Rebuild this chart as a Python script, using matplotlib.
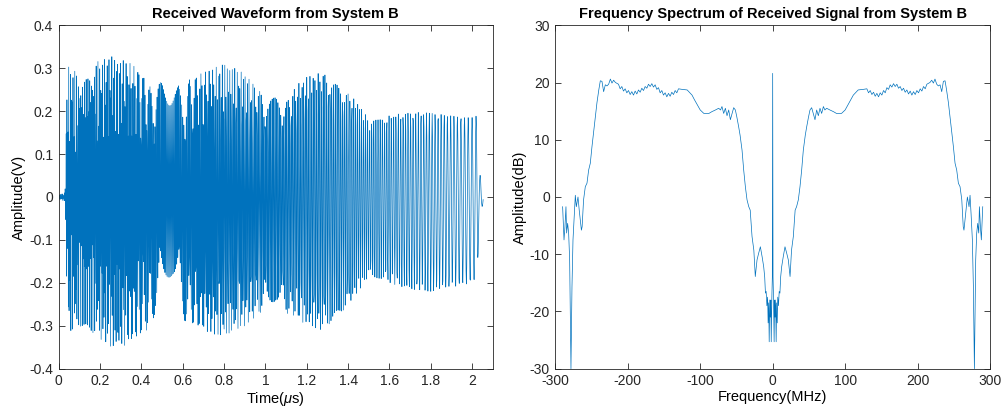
import numpy as np
import matplotlib.pyplot as plt

plt.rcParams['font.family'] = ['Liberation Sans', 'DejaVu Sans']
plt.rcParams['axes.unicode_minus'] = False
plt.rcParams['mathtext.fontset'] = 'custom'
plt.rcParams['mathtext.it'] = 'Liberation Sans:italic'

LINE = '#0072BD'
AXC = '#262626'

# ---- received waveform ----
fs_mhz = 580.0            # sample rate, from the +-290 MHz spectrum span
chirp_t = [0.04, 2.03]    # us, start / end of the down chirp
chirp_f = [241.0, 50.0]   # MHz at start / end
t_stop = 2.055

env_t = [0.0, 0.03, 0.04, 0.05, 0.10, 0.15, 0.20, 0.27, 0.35, 0.40, 0.45, 0.50,
         0.55, 0.58, 0.60, 0.62, 0.70, 0.80, 0.90, 0.95, 1.00, 1.05, 1.10, 1.15,
         1.20, 1.27, 1.35, 1.40, 1.45, 1.50, 1.55, 1.60, 1.70, 1.80, 1.90, 2.00,
         2.025, 2.035, 2.055]
env_hi = [0.005, 0.01, 0.27, 0.31, 0.28, 0.30, 0.32, 0.33, 0.31, 0.29, 0.25, 0.27,
          0.265, 0.26, 0.22, 0.27, 0.29, 0.31, 0.29, 0.26, 0.23, 0.24, 0.22, 0.26,
          0.28, 0.29, 0.27, 0.24, 0.22, 0.18, 0.18, 0.19, 0.20, 0.195, 0.19, 0.185,
          0.19, 0.06, 0.02]
env_lo = [0.005, 0.01, 0.23, 0.32, 0.30, 0.31, 0.33, 0.355, 0.34, 0.32, 0.30, 0.21,
          0.20, 0.22, 0.29, 0.29, 0.31, 0.33, 0.30, 0.28, 0.26, 0.25, 0.27, 0.28,
          0.30, 0.31, 0.28, 0.25, 0.22, 0.185, 0.19, 0.20, 0.215, 0.22, 0.21, 0.20,
          0.20, 0.04, 0.015]

# ---- spectrum, positive half (MHz, dB), mirrored for the negative half ----
spec_f = [0.0, 0.5, 1.2, 2.0, 2.6, 3.3, 4.0, 4.8, 5.5, 6.3, 7.0, 8.0, 9.0, 10.0,
          11.0, 12.4, 14.5, 17.0, 19.3, 21.6, 24.0, 26.0, 28.5, 31.0, 33.0, 35.4,
          37.7, 40.0, 42.3, 45.0, 47.0, 49.5, 51.5, 53.8, 56.0, 58.4, 60.7, 63.0,
          65.3, 67.6, 70.0, 72.0, 74.5, 79.0, 84.0, 88.0, 95.0, 100.0, 104.4,
          108.0, 111.3, 118.0, 125.0,
          130.0, 132.3, 134.6, 136.9, 139.2, 141.5, 143.8, 146.1, 148.4, 150.7,
          153.0, 155.3, 157.6, 159.9, 162.2, 164.5, 166.8, 169.1, 171.4, 173.7,
          176.0, 178.3, 180.6, 182.9, 185.2, 187.5, 189.8, 192.1, 194.4, 196.7,
          199.0, 201.3, 203.6, 205.9, 208.2, 210.5, 212.8,
          217.0, 219.5, 221.8,
          224.0, 226.4, 228.7, 231.0, 233.3, 235.6, 237.9, 240.0, 242.5, 244.8,
          247.0, 249.4, 251.7, 254.0, 256.3, 258.6, 261.0, 263.0, 264.0, 265.5,
          267.0, 268.7, 271.0, 272.4, 273.8, 275.6, 277.0, 278.4, 280.2, 281.6,
          283.0, 284.4, 285.3, 286.7, 288.0, 289.9]
spec_db = [21.6, -14.0, -18.0, -25.3, -18.0, -21.0, -18.0, -25.3, -18.5, -22.0,
           -17.5, -19.0, -16.5, -16.8, -14.0, -12.2, -10.5, -8.7, -9.8, -11.0,
           -13.9, -9.3, -6.9, -2.3, -1.7, -0.5, 1.8, 4.7, 8.2, 10.8, 12.3, 14.0,
           15.2, 15.6, 14.6, 13.5, 15.2, 14.2, 15.5, 14.6, 15.8, 15.2, 15.5, 15.2,
           14.9, 14.6, 14.6, 15.2, 16.2, 17.0, 17.8, 18.7, 18.8,
           18.9, 18.2, 18.6, 17.9, 18.3, 17.6, 18.1, 17.5, 18.2, 17.8,
           18.6, 18.2, 19.1, 18.8, 19.6, 19.2, 19.8, 19.3, 19.7, 19.0,
           19.3, 18.6, 19.0, 18.3, 18.7, 18.0, 18.5, 17.8, 18.4, 17.9,
           18.6, 18.2, 18.9, 18.5, 19.3, 18.9, 19.7,
           20.0, 20.4, 19.9,
           20.6, 19.7, 19.4, 19.6, 18.4, 20.2, 20.3, 18.7, 16.5, 14.0, 11.5,
           8.8, 5.9, 4.7, 2.4, 1.8, -0.5, -5.2, -5.8, -4.0, -2.3, 0.0, -1.7, 0.3,
           -2.9, -7.5, -15.7, -30.0, -11.0, -6.3, -4.6, -6.3, -1.7, -5.2, -7.5, -1.7]

left_xticks = [0, 0.2, 0.4, 0.6, 0.8, 1, 1.2, 1.4, 1.6, 1.8, 2]
left_yticks = [-0.4, -0.3, -0.2, -0.1, 0, 0.1, 0.2, 0.3, 0.4]
right_xticks = [-300, -200, -100, 0, 100, 200, 300]
right_yticks = [-30, -20, -10, 0, 10, 20, 30]

# waveform samples from the read envelope and chirp
t = np.arange(0, t_stop, 1.0 / fs_mhz)
k = (chirp_f[0] - chirp_f[1]) / (chirp_t[1] - chirp_t[0])
tau = t - chirp_t[0]
phase = 2 * np.pi * (chirp_f[0] * tau - 0.5 * k * tau ** 2)
c = np.cos(phase)
amp = np.where(c > 0, np.interp(t, env_t, env_hi), np.interp(t, env_t, env_lo))
wave = amp * c

f_full = np.concatenate([-np.array(spec_f[::-1]), np.array(spec_f[1:])])
db_full = np.concatenate([np.array(spec_db[::-1]), np.array(spec_db[1:])])

fig = plt.figure(figsize=(10.04, 4.15), dpi=100)
ax1 = fig.add_axes([0.0585, 0.1116, 0.4323, 0.8275])
ax2 = fig.add_axes([0.5531, 0.1116, 0.4330, 0.8275])

ax1.plot(t, wave, color=LINE, lw=0.5)
ax1.set_xlim(0, 2.1)
ax1.set_ylim(-0.4, 0.4)
ax1.set_xticks(left_xticks)
ax1.set_xticklabels([f'{v:g}' for v in left_xticks])
ax1.set_yticks(left_yticks)
ax1.set_yticklabels([f'{v:g}' for v in left_yticks])
ax1.set_title('Received Waveform from System B', fontsize=10.5, fontweight='bold', pad=5)
ax1.set_xlabel(r'Time($\mu$s)', fontsize=10.5, labelpad=1)
ax1.set_ylabel('Amplitude(V)', fontsize=10.5, labelpad=2)

ax2.plot(f_full, db_full, color=LINE, lw=0.5)
ax2.set_xlim(-300, 300)
ax2.set_ylim(-30, 30)
ax2.set_xticks(right_xticks)
ax2.set_yticks(right_yticks)
ax2.set_title('Frequency Spectrum of Received Signal from System B', fontsize=10.5,
              fontweight='bold', pad=5)
ax2.set_xlabel('Frequency(MHz)', fontsize=10.5, labelpad=1)
ax2.set_ylabel('Amplitude(dB)', fontsize=10.5, labelpad=2)

for ax in (ax1, ax2):
    ax.tick_params(direction='in', top=True, right=True, length=4, width=0.6,
                   colors=AXC, labelsize=10, pad=4)
    for s in ax.spines.values():
        s.set_linewidth(0.6)
        s.set_color(AXC)

fig.savefig('out.png', dpi=100)
